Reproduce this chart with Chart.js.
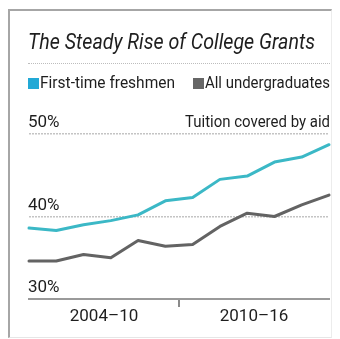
<!DOCTYPE html>
<html>
<head>
<meta charset="utf-8">
<script src="https://cdn.jsdelivr.net/npm/chart.js@4/dist/chart.umd.min.js"></script>
<style>
  html, body { margin: 0; padding: 0; background: #fff; }
  #wrap { position: relative; width: 340px; height: 339px; overflow: hidden; background: #fff; font-family: Roboto, "Liberation Sans", sans-serif; }
  #frame { position: absolute; left: 8px; top: 9px; width: 321px; height: 326px;
           border-left: 2px solid #a6a6a6; border-top: 2px solid #a6a6a6;
           border-right: 1px solid #ececec; border-bottom: 1px solid #e6e6e6; }
  canvas { position: absolute; left: 0; top: 0; }
  .t { position: absolute; white-space: nowrap; color: #1e1e1e; transform-origin: 0 0; line-height: 1; }
  .sq { position: absolute; width: 11px; height: 11px; }
  #sep { position: absolute; left: 28px; top: 63px; width: 302px; height: 0; border-top: 1px dotted #bdbdbd; }
</style>
</head>
<body>
<div id="wrap">
  <div id="frame"></div>
  <canvas id="c" width="340" height="339"></canvas>
  <div class="t" id="title" style="left:28px; top:31px; font-size:22px; font-style:italic;" data-w="287">The Steady Rise of College Grants</div>
  <div id="sep"></div>
  <div class="sq" style="left:28px; top:78px; background:#22a9d6;"></div>
  <div class="t" id="lg1" style="left:40px; top:75px; font-size:16px;" data-w="135">First-time freshmen</div>
  <div class="sq" style="left:193px; top:78px; background:#666666;"></div>
  <div class="t" id="lg2" style="left:205px; top:75px; font-size:16px;" data-w="125">All undergraduates</div>
  <div class="t" id="note" style="left:185px; top:113.5px; font-size:16px;" data-w="145">Tuition covered by aid</div>
</div>
<script>
// ---- data ----
const periodIndex = [0, 1, 2, 3, 4, 5, 6, 7, 8, 9, 10, 11];
const freshmen = [38.6, 38.3, 39.0, 39.5, 40.2, 41.9, 42.3, 44.5, 44.9, 46.6, 47.2, 48.7];
const allUndergrads = [34.6, 34.6, 35.4, 35.0, 37.1, 36.4, 36.6, 38.8, 40.4, 40.0, 41.4, 42.6];
const seriesNames = ['First-time freshmen', 'All undergraduates'];
const xTickPositions = [2.75, 5.5, 8.25];
const xTickLabels = ['2004–10', '', '2010–16'];
const yTicks = [30, 40, 50];
const yTickLabels = ['30%', '40%', '50%'];

// fit HTML text widths
document.querySelectorAll('.t[data-w]').forEach(el => {
  const w = el.getBoundingClientRect().width;
  const target = parseFloat(el.dataset.w);
  el.style.transform = 'scaleX(' + (target / w) + ')';
});

const toXY = arr => arr.map((v, i) => ({ x: periodIndex[i], y: v }));

new Chart(document.getElementById('c'), {
  type: 'line',
  data: {
    datasets: [
      { label: seriesNames[0], data: toXY(freshmen), borderColor: '#3bb8c6', borderWidth: 3,
        pointRadius: 0, tension: 0, borderJoinStyle: 'round', borderCapStyle: 'round', clip: false },
      { label: seriesNames[1], data: toXY(allUndergrads), borderColor: '#636363', borderWidth: 3,
        pointRadius: 0, tension: 0, borderJoinStyle: 'round', borderCapStyle: 'round', clip: false }
    ]
  },
  options: {
    responsive: false,
    animation: false,
    events: [],
    layout: { padding: { top: 134, left: 29, right: 11, bottom: 0 } },
    plugins: { legend: { display: false }, title: { display: false }, tooltip: { enabled: false } },
    scales: {
      x: {
        type: 'linear',
        min: 0, max: 11,
        afterBuildTicks: s => { s.ticks = xTickPositions.map(v => ({ value: v })); },
        afterFit: s => { s.height = 40; },
        ticks: {
          autoSkip: false, maxRotation: 0, padding: 0,
          color: '#1e1e1e',
          font: { family: 'Roboto', size: 17 },
          callback: (v) => { const i = xTickPositions.indexOf(v); return i >= 0 ? xTickLabels[i] : ''; }
        },
        grid: {
          drawOnChartArea: false, drawTicks: true, tickLength: 8, lineWidth: 2,
          color: ctx => (ctx.tick && ctx.tick.value === 5.5) ? '#8a8a8a' : 'rgba(0,0,0,0)'
        },
        border: { display: true, color: '#9a9a9a', width: 2 }
      },
      y: {
        min: 30, max: 50,
        afterBuildTicks: s => { s.ticks = yTicks.map(v => ({ value: v })); },
        afterFit: s => { s.width = 0; },
        ticks: {
          mirror: true, padding: -1, labelOffset: -11,
          color: '#1e1e1e',
          font: { family: 'Roboto', size: 17 },
          callback: (v) => { const i = yTicks.indexOf(v); return i >= 0 ? yTickLabels[i] : ''; }
        },
        grid: {
          drawTicks: false, lineWidth: 1.5,
          color: ctx => (ctx.tick && ctx.tick.value === 30) ? 'rgba(0,0,0,0)' : '#c4c4c4'
        },
        border: { display: false, dash: [2, 1] }
      }
    }
  }
});
</script>
</body>
</html>
